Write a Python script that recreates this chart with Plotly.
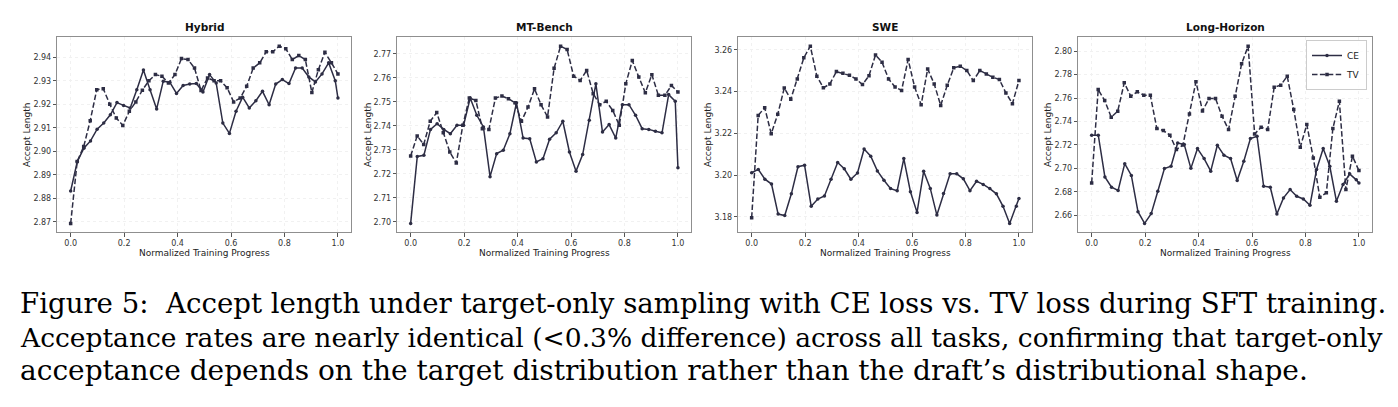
import plotly.graph_objects as go

# ---------------- data ----------------
panels = ["Hybrid", "MT-Bench", "SWE", "Long-Horizon"]

# checkpoint positions (normalized training progress)
progress_ce = [round(i * 0.02475, 5) for i in range(41)] + [1.0]
progress_tv = [round(i / 41, 5) for i in range(42)]

hybrid_ce = [2.8831, 2.8956, 2.9013, 2.9044, 2.9094, 2.9120, 2.9155, 2.9207, 2.9195, 2.9184,
             2.9262, 2.9346, 2.9262, 2.9180, 2.9298, 2.9293, 2.9246, 2.9280, 2.9286, 2.9288,
             2.9252, 2.9326, 2.9290, 2.9120, 2.9076, 2.9170, 2.9230, 2.9184, 2.9215, 2.9255,
             2.9198, 2.9286, 2.9305, 2.9288, 2.9354, 2.9354, 2.9316, 2.9295, 2.9329, 2.9376,
             2.9300, 2.9226]
hybrid_tv = [2.8693, 2.8956, 2.9020, 2.9130, 2.9262, 2.9266, 2.9200, 2.9141, 2.9110, 2.9170,
             2.9210, 2.9260, 2.9300, 2.9326, 2.9319, 2.9290, 2.9326, 2.9394, 2.9390, 2.9354,
             2.9258, 2.9312, 2.9300, 2.9300, 2.9270, 2.9210, 2.9226, 2.9276, 2.9354, 2.9376,
             2.9423, 2.9423, 2.9447, 2.9436, 2.9390, 2.9407, 2.9390, 2.9250, 2.9347, 2.9421,
             2.9376, 2.9329]

mtbench_ce = [2.6993, 2.7272, 2.7277, 2.7385, 2.7409, 2.7385, 2.7367, 2.7402, 2.7402, 2.7516,
              2.7444, 2.7395, 2.7188, 2.7284, 2.7298, 2.7367, 2.7496, 2.7349, 2.7346, 2.7249,
              2.7263, 2.7344, 2.7371, 2.7419, 2.7291, 2.7211, 2.7280, 2.7423, 2.7575, 2.7374,
              2.7405, 2.7349, 2.7488, 2.7488, 2.7444, 2.7388, 2.7385, 2.7377, 2.7371, 2.7530,
              2.7502, 2.7225]
mtbench_tv = [2.7274, 2.7358, 2.7322, 2.7419, 2.7455, 2.7371, 2.7291, 2.7245, 2.7402, 2.7516,
              2.7506, 2.7388, 2.7385, 2.7516, 2.7524, 2.7513, 2.7496, 2.7419, 2.7478, 2.7554,
              2.7488, 2.7437, 2.7640, 2.7732, 2.7718, 2.7607, 2.7589, 2.7631, 2.7534, 2.7488,
              2.7502, 2.7464, 2.7402, 2.7575, 2.7672, 2.7603, 2.7538, 2.7613, 2.7527, 2.7527,
              2.7568, 2.7541]

swe_ce = [3.2011, 3.2027, 3.1980, 3.1957, 3.1813, 3.1806, 3.1910, 3.2040, 3.2047, 3.1850,
          3.1885, 3.1900, 3.1980, 3.2060, 3.2030, 3.1980, 3.2010, 3.2125, 3.2090, 3.2020,
          3.1975, 3.1935, 3.1925, 3.2079, 3.1920, 3.1821, 3.2018, 3.1936, 3.1808, 3.1912,
          3.2006, 3.2006, 3.1982, 3.1925, 3.1970, 3.1955, 3.1935, 3.1910, 3.1850, 3.1768,
          3.1850, 3.1888]
swe_tv = [3.1795, 3.2286, 3.2323, 3.2198, 3.2291, 3.2417, 3.2363, 3.2461, 3.2562, 3.2618,
          3.2474, 3.2418, 3.2437, 3.2496, 3.2488, 3.2478, 3.2461, 3.2434, 3.2476, 3.2576,
          3.2541, 3.2461, 3.2422, 3.2406, 3.2554, 3.2422, 3.2337, 3.2509, 3.2437, 3.2334,
          3.2430, 3.2514, 3.2522, 3.2501, 3.2453, 3.2501, 3.2485, 3.2469, 3.2458, 3.2394,
          3.2342, 3.2453]

longh_ce = [2.7283, 2.7283, 2.6927, 2.6839, 2.6811, 2.7040, 2.6940, 2.6630, 2.6530, 2.6614,
            2.6805, 2.6998, 2.7018, 2.7217, 2.7203, 2.7000, 2.7169, 2.7084, 2.6976, 2.7197,
            2.7112, 2.7084, 2.6896, 2.7061, 2.7255, 2.7274, 2.6848, 2.6839, 2.6611, 2.6748,
            2.6819, 2.6762, 2.6739, 2.6685, 2.6990, 2.7169, 2.7018, 2.6720, 2.6862, 2.6953,
            2.6902, 2.6876]
longh_tv = [2.6876, 2.7673, 2.7579, 2.7437, 2.7488, 2.7730, 2.7616, 2.7653, 2.7624, 2.7624,
            2.7340, 2.7323, 2.7283, 2.7160, 2.7200, 2.7465, 2.7740, 2.7490, 2.7596, 2.7596,
            2.7445, 2.7331, 2.7616, 2.7892, 2.8043, 2.7294, 2.7351, 2.7331, 2.7693, 2.7710,
            2.7787, 2.7502, 2.7180, 2.7374, 2.7089, 2.6753, 2.6791, 2.7340, 2.7573, 2.6819,
            2.7104, 2.6981]

ce_series = [hybrid_ce, mtbench_ce, swe_ce, longh_ce]
tv_series = [hybrid_tv, mtbench_tv, swe_tv, longh_tv]

x_ticks = [0.0, 0.2, 0.4, 0.6, 0.8, 1.0]
x_ticklabels = ["0.0", "0.2", "0.4", "0.6", "0.8", "1.0"]
y_ticks = [
    [2.87, 2.88, 2.89, 2.90, 2.91, 2.92, 2.93, 2.94],
    [2.70, 2.71, 2.72, 2.73, 2.74, 2.75, 2.76, 2.77],
    [3.18, 3.20, 3.22, 3.24, 3.26],
    [2.66, 2.68, 2.70, 2.72, 2.74, 2.76, 2.78, 2.80],
]

caption_lines = [
    "Figure 5:  Accept length under target-only sampling with CE loss vs. TV loss during SFT training.",
    "Acceptance rates are nearly identical (<0.3% difference) across all tasks, confirming that target-only",
    "acceptance depends on the target distribution rather than the draft\u2019s distributional shape.",
]

# ---------------- layout ----------------
W, H = 1398, 407
LINE = "#2d2d44"
SPINE = "#8f8f8f"
panel_left = [57.3, 397.3, 738.3, 1078.3]
panel_w = 294.0
top_px, bot_px = 37.3, 232.3
ylab_x = [27.3, 367.3, 707.3, 1047.3]

fig = go.Figure()
annotations = []
layout = dict(
    width=W, height=H,
    margin=dict(l=0, r=0, t=0, b=0),
    paper_bgcolor="white", plot_bgcolor="white",
    font=dict(family="DejaVu Sans", color="#222222"),
)

for k, name in enumerate(panels):
    xa = "xaxis" if k == 0 else f"xaxis{k+1}"
    ya = "yaxis" if k == 0 else f"yaxis{k+1}"
    xr, yr = f"x{k+1}" if k else "x", f"y{k+1}" if k else "y"
    ce, tv = ce_series[k], tv_series[k]
    lo = min(min(ce), min(tv)); hi = max(max(ce), max(tv))
    pad = 0.05 * (hi - lo)
    x0 = panel_left[k] / W; x1 = (panel_left[k] + panel_w) / W
    common = dict(showline=True, mirror=True, linecolor=SPINE, linewidth=1,
                  ticks="outside", ticklen=3.5, tickwidth=0.8, tickcolor="#555555",
                  tickfont=dict(family="DejaVu Sans", size=8, color="#333333"),
                  showgrid=True, gridcolor="#f1f1f1", gridwidth=0.8, griddash="dot",
                  zeroline=False)
    layout[xa] = dict(domain=[x0, x1], range=[-0.05, 1.05], tickvals=x_ticks,
                      ticktext=x_ticklabels, anchor=yr, **common)
    layout[ya] = dict(domain=[1 - bot_px / H, 1 - top_px / H], range=[lo - pad, hi + pad],
                      tickvals=y_ticks[k], tickformat=".2f", anchor=xr, **common)

    fig.add_trace(go.Scatter(x=progress_ce, y=ce, mode="lines+markers", name="CE",
                             line=dict(color=LINE, width=1.5),
                             marker=dict(symbol="circle", size=3.5, color=LINE),
                             showlegend=(k == 3), legendgroup="CE", xaxis=xr, yaxis=yr))
    fig.add_trace(go.Scatter(x=progress_tv, y=tv, mode="lines+markers", name="TV",
                             line=dict(color=LINE, width=1.5, dash="5.5px,2.4px"),
                             marker=dict(symbol="square", size=3.5, color=LINE),
                             showlegend=(k == 3), legendgroup="TV", xaxis=xr, yaxis=yr))

    cx = (panel_left[k] + panel_w / 2) / W
    annotations.append(dict(text=f"<b>{name}</b>", x=cx, y=1 - 27.5 / H, xref="paper", yref="paper",
                            xanchor="center", yanchor="middle", showarrow=False,
                            font=dict(family="DejaVu Sans", size=10.5, color="#111111")))
    annotations.append(dict(text="Normalized Training Progress", x=cx, y=1 - 252.5 / H,
                            xref="paper", yref="paper", xanchor="center", yanchor="middle",
                            showarrow=False, font=dict(family="DejaVu Sans", size=9, color="#222222")))
    annotations.append(dict(text="Accept Length", x=ylab_x[k] / W, y=1 - 134.8 / H,
                            xref="paper", yref="paper", xanchor="center", yanchor="middle",
                            textangle=-90, showarrow=False,
                            font=dict(family="DejaVu Sans", size=9, color="#222222")))

cap_y = [303.5, 337.0, 370.5]
cap_size = [27.6, 26.5, 28.0]
for line_txt, yy, fs in zip(caption_lines, cap_y, cap_size):
    annotations.append(dict(text=line_txt.replace("<", "&lt;"), x=18 / W, y=1 - yy / H,
                            xref="paper", yref="paper", xanchor="left", yanchor="middle",
                            showarrow=False,
                            font=dict(family="DejaVu Serif", size=fs, color="#000000")))

layout["annotations"] = annotations
layout["legend"] = dict(x=1367 / W, y=1 - 40 / H, xanchor="right", yanchor="top",
                        bgcolor="rgba(255,255,255,0.85)", bordercolor="#cccccc", borderwidth=1,
                        font=dict(family="DejaVu Sans", size=9, color="#222222"),
                        itemwidth=30, tracegroupgap=0)
fig.update_layout(**layout)
fig.write_html("out.html")
